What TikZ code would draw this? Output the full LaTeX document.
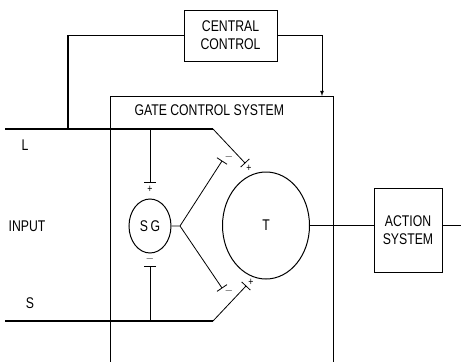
\documentclass[tikz,border=0pt]{standalone}
\usepackage{fontspec}
\setmainfont{Liberation Sans}[FakeStretch=0.79]
\usetikzlibrary{arrows}
\usetikzlibrary{calc,positioning}
\usetikzlibrary{shapes.geometric}
\begin{document}
\begin{tikzpicture}[x=1pt,y=-1pt,font=\fontsize{15.5}{18}\selectfont,
                box/.style={draw,line width=1pt,align=center,inner sep=0pt},
                signal/.style={line width=1.7pt},
                wire/.style={line width=0.8pt},
                sign/.style={font=\fontsize{11}{11}\selectfont,inner sep=0pt}] 
                \useasboundingbox (0,0) rectangle (467,362);
                % blocks
                \node[box,minimum width=93,minimum height=51] (cc) at (230.5,35.5) {CENTRAL\\CONTROL};
                \node[box,ellipse,minimum width=42,minimum height=54] (sg) at (150,226) {S\,G};
                \node[box,ellipse,minimum width=87,minimum height=107] (t) at (266,225.5) {T};
                \node[box,minimum width=68,minimum height=84] (act) at (408,230) {ACTION\\SYSTEM};
                % gate control frame
                \coordinate (gtl) at (110,96);
                \coordinate (gtr) at (333,96);
                \draw[wire] (110,362) -- (gtl) -- (gtr) -- (333,362);
                \node[anchor=west] (gcs) at (131,110) {GATE CONTROL SYSTEM};
                % inputs
                \coordinate (lin) at (5,129);   \coordinate (lb) at (213,129);  \coordinate (lp) at (245,163);
                \coordinate (sin) at (5,321);   \coordinate (sb) at (213,321);  \coordinate (sp) at (246,286);
                \coordinate (ltap) at (68,129);
                \coordinate (lsg) at (150,129); \coordinate (ssg) at (150,321);
                \coordinate (sgp) at (150,182); \coordinate (sgm) at (150,266);
                \coordinate (fork) at (180,226);
                \coordinate (um) at (222,161);  \coordinate (lm) at (222,288);
                \node (lin_l) at (25,145) {L};
                \node (sin_l) at (30,303) {S};
                \node (inp) at (27,226) {INPUT};
                \draw[signal] (lin) -- (lb);
                \draw[signal] (sin) -- (sb);
                \draw[wire] (lb) -- (lp) (sb) -- (sp);
                \draw[signal] (cc.west) -| (ltap);
                \draw[wire,-latex] (cc.east) -| (gtl -| 322,0);
                % SG connections
                \draw[wire] (lsg) -- (sgp) (sgm) -- (ssg);
                \draw[wire] (sg.east) -- (fork) -- (um) (fork) -- (lm);
                \foreach \p/\q in {lp/lb, sp/sb, um/fork, lm/fork, sgp/lsg, sgm/ssg}
                  \draw[wire] ($(\p)!6pt!90:(\q)$) -- ($(\p)!6pt!-90:(\q)$);
                \node[sign] (sgp_l) at (150,189) {+};
                \node[sign] (sgm_l) at (150,259) {$-$};
                \node[sign] (um_l) at (229,157) {$-$};
                \node[sign] (lp_l) at (249,168) {+};
                \node[sign] (lm_l) at (229,291) {$-$};
                \node[sign] (sp_l) at (251,282) {+};
                % output
                \draw[wire] (t.east) -- (t.east -| act.west);
                \draw[wire] (t.east -| act.east) -- ++(18,0) coordinate (out);
             \end{tikzpicture}
\end{document}
